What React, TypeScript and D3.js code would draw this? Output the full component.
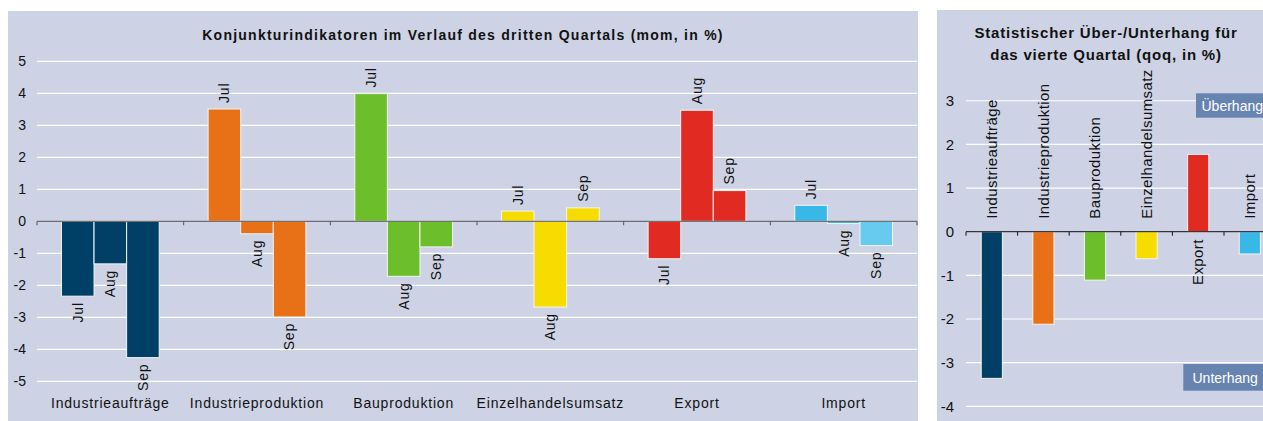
import React from 'react';
import * as d3 from 'd3';

const categories = ['Industrieaufträge', 'Industrieproduktion', 'Bauproduktion', 'Einzelhandelsumsatz', 'Export', 'Import'];
const months = ['Jul', 'Aug', 'Sep'];
const julValues = [-2.34, 3.51, 3.99, 0.32, -1.17, 0.5];
const augValues = [-1.33, -0.39, -1.72, -2.68, 3.47, -0.07];
const sepValues = [-4.26, -2.99, -0.8, 0.42, 0.96, -0.76];
const overhangValues = [-3.36, -2.12, -1.11, -0.62, 1.77, -0.51];
const leftTicks = [5, 4, 3, 2, 1, 0, -1, -2, -3, -4, -5];
const rightTicks = [3, 2, 1, 0, -1, -2, -3, -4];

const colors = ['#003F66', '#E87117', '#6CBF2A', '#F7DC00', '#E12A22', '#38B8E6'];
const importSepColor = '#66CBEF';
const bg = '#CDD3E5';
const boxColor = '#6783B0';
const font = 'Arial, "Liberation Sans", sans-serif';

const App: React.FC = () => {
  const W = 1263;
  const H = 421;

  // left chart
  const x0 = d3.scaleBand<string>().domain(categories).range([37, 917]).padding(0);
  const x1 = d3.scaleBand<string>().domain(months).range([0, x0.bandwidth()]).paddingInner(0).paddingOuter(0.75);
  const yL = d3.scaleLinear().domain([-5, 5]).range([381.3, 61.3]);
  const series = [julValues, augValues, sepValues];

  // right chart
  const xR = d3.scaleBand<string>().domain(categories).range([966, 966 + 6 * 51.6]).paddingInner(0.59).paddingOuter(0.295);
  const yR = d3.scaleLinear().domain([-4, 3]).range([406.3, 100.75]);

  const leftBars: React.ReactNode[] = [];
  categories.forEach((c, ci) => {
    months.forEach((m, mi) => {
      const v = series[mi][ci];
      const bx = (x0(c) as number) + (x1(m) as number);
      const bw = x1.bandwidth();
      const y0 = yL(0);
      const yv = yL(v);
      const fill = ci === 5 && mi === 2 ? importSepColor : colors[ci];
      const cx = bx + bw / 2;
      leftBars.push(
        <g key={c + m}>
          <rect x={bx} y={Math.min(y0, yv)} width={bw} height={Math.abs(yv - y0)} fill={fill} stroke="#F4F4F4" strokeWidth={1} />
          <text
            transform={`translate(${cx},${v >= 0 ? yv - 6 : yv + 6}) rotate(-90)`}
            dy="0.35em"
            textAnchor={v >= 0 ? 'start' : 'end'}
            fontSize={14}
            letterSpacing={0.8}
            fill="#111"
          >{m}</text>
        </g>
      );
    });
  });

  return (
    <svg width={W} height={H} style={{ position: 'absolute', left: 0, top: 0 }} fontFamily={font}>
      <rect x={0} y={0} width={W} height={H} fill="#fff" />
      {/* left panel */}
      <rect x={8} y={11} width={910} height={H - 11} fill={bg} />
      <text x={463} y={40} textAnchor="middle" fontWeight="bold" fontSize={14} letterSpacing={1.25} fill="#111">
        Konjunkturindikatoren im Verlauf des dritten Quartals (mom, in %)
      </text>
      {leftTicks.map(t => (
        <g key={'lt' + t}>
          {t !== 0 && <line x1={37} x2={917} y1={yL(t)} y2={yL(t)} stroke="#fff" strokeWidth={1.2} />}
          <text x={26} y={yL(t)} dy="0.35em" textAnchor="end" fontSize={14} fill="#111">{t}</text>
        </g>
      ))}
      {leftBars}
      <line x1={37} x2={917} y1={yL(0)} y2={yL(0)} stroke="#555" strokeWidth={1} />
      {d3.range(categories.length + 1).map(i => {
        const tx = 37 + i * x0.step();
        return <line key={'tk' + i} x1={tx} x2={tx} y1={yL(0)} y2={yL(0) + 4} stroke="#555" strokeWidth={1} />;
      })}
      {categories.map(c => (
        <text key={'cl' + c} x={(x0(c) as number) + x0.bandwidth() / 2} y={408} textAnchor="middle" fontSize={14} letterSpacing={0.8} fill="#111">{c}</text>
      ))}

      {/* right panel */}
      <svg x={937} y={10} width={W - 937} height={H - 10} overflow="hidden">
        <g transform="translate(-937,-10)">
          <rect x={937} y={10} width={W - 937} height={H - 10} fill={bg} />
          <text x={1106} y={38} textAnchor="middle" fontWeight="bold" fontSize={15} letterSpacing={0.8} fill="#111">Statistischer Über-/Unterhang für</text>
          <text x={1106} y={60} textAnchor="middle" fontWeight="bold" fontSize={15} letterSpacing={0.8} fill="#111">das vierte Quartal (qoq, in %)</text>
          {rightTicks.map(t => (
            <g key={'rt' + t}>
              {t !== 0 && <line x1={966} x2={1290} y1={yR(t)} y2={yR(t)} stroke="#fff" strokeWidth={1.2} />}
              <text x={954} y={yR(t)} dy="0.35em" textAnchor="end" fontSize={15} fill="#111">{t}</text>
            </g>
          ))}
          <rect x={1196} y={93.3} width={80} height={24.4} fill={boxColor} />
          <text x={1201.5} y={110.5} fontSize={14} fill="#fff">Überhang</text>
          <rect x={1183.3} y={364} width={90} height={26.7} fill={boxColor} />
          <text x={1192.5} y={382.5} fontSize={14} fill="#fff">Unterhang</text>
          {categories.map((c, i) => {
            const v = overhangValues[i];
            const bx = xR(c) as number;
            const bw = xR.bandwidth();
            const y0 = yR(0);
            const yv = yR(v);
            const cx = bx + bw / 2;
            return (
              <g key={'rb' + c}>
                <rect x={bx} y={Math.min(y0, yv)} width={bw} height={Math.abs(yv - y0)} fill={colors[i]} stroke="#F4F4F4" strokeWidth={1} />
                <text
                  transform={`translate(${cx},${v < 0 ? y0 - 13 : y0 + 7.5}) rotate(-90)`}
                  dy="0.35em"
                  textAnchor={v < 0 ? 'start' : 'end'}
                  fontSize={15}
                  letterSpacing={0.4}
                  fill="#111"
                >{c}</text>
              </g>
            );
          })}
          <line x1={966} x2={1290} y1={yR(0)} y2={yR(0)} stroke="#111" strokeWidth={1} />
          {d3.range(categories.length + 1).map(i => {
            const tx = 966 + i * xR.step();
            return <line key={'rtk' + i} x1={tx} x2={tx} y1={yR(0)} y2={yR(0) + 4} stroke="#111" strokeWidth={1} />;
          })}
        </g>
      </svg>
    </svg>
  );
};

export default App;
